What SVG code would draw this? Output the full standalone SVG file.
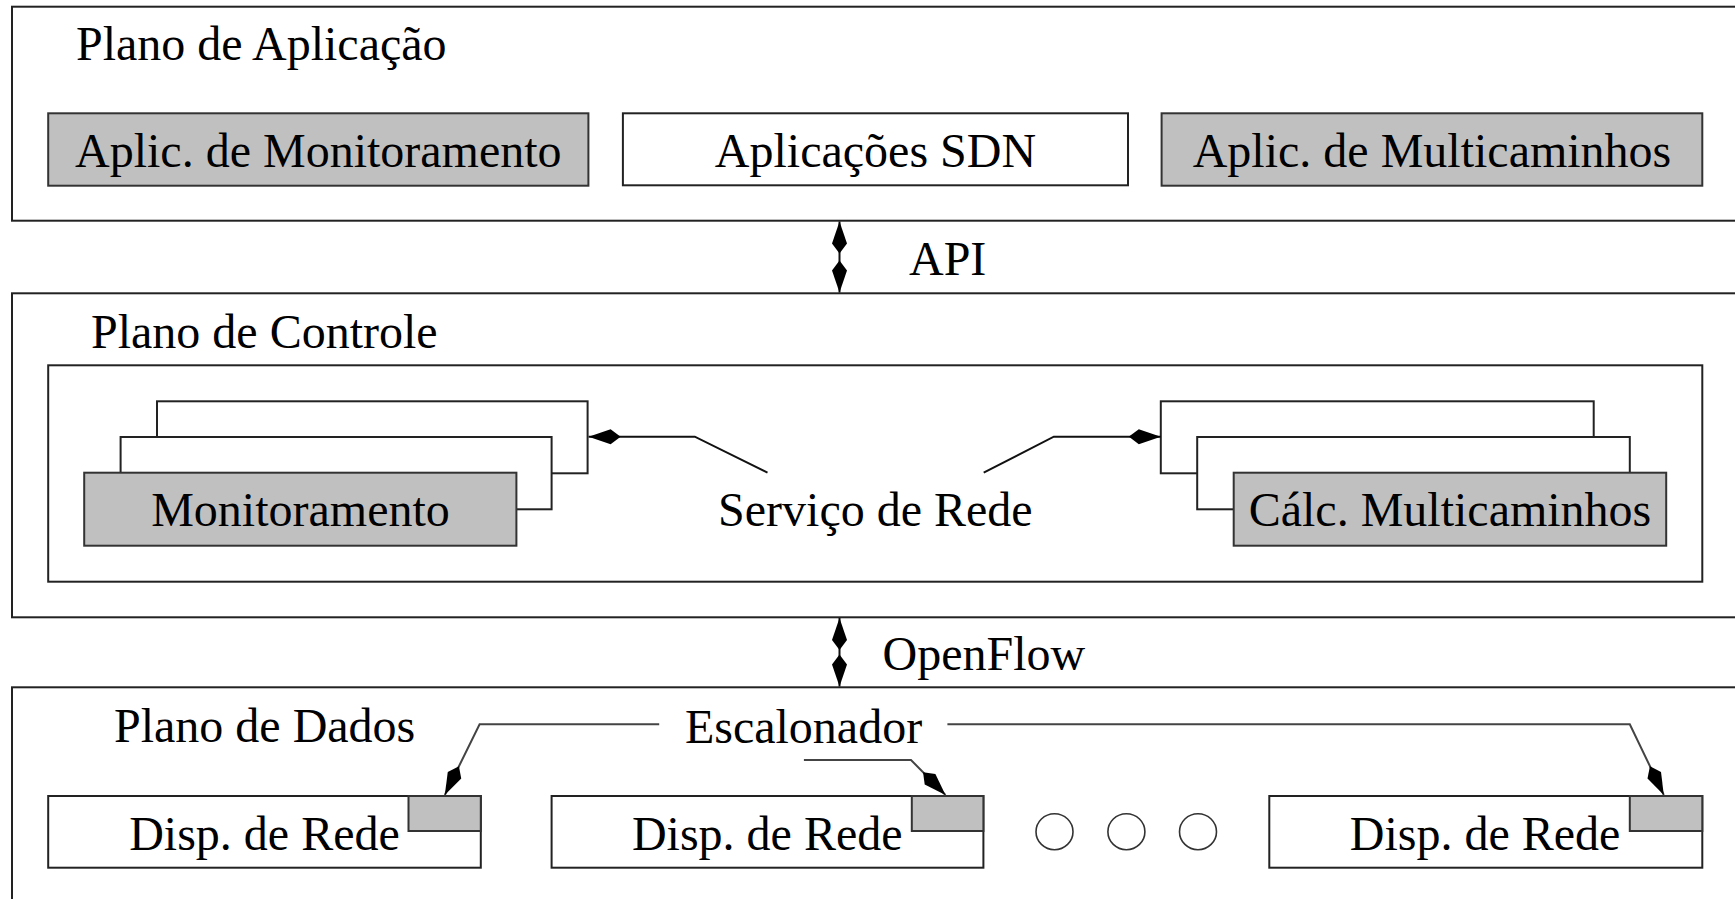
<svg xmlns="http://www.w3.org/2000/svg" width="1735" height="899" viewBox="0 0 1735 899">
  <style>
    .plane { fill: #ffffff; stroke: #222222; stroke-width: 2; }
    .box { fill: #ffffff; stroke: #222222; stroke-width: 2; }
    .gray { fill: #c0c0c0; stroke: #333333; stroke-width: 2; }
    .lbl { font-family: "Liberation Serif", "Times New Roman", serif; font-size: 48px; fill: #000000; }
    .mid { text-anchor: middle; }
    .link { fill: none; stroke: #111111; stroke-width: 2; }
    .lead { fill: none; stroke: #444444; stroke-width: 2; }
    .dot { fill: #ffffff; stroke: #333333; stroke-width: 1.6; }
  </style>
  <defs>
    <marker id="kite" markerUnits="userSpaceOnUse" markerWidth="34" markerHeight="20" viewBox="0 -10 34 20" refX="32" refY="0" orient="auto-start-reverse">
      <path d="M0,0 L10,-7.5 L32,0 L10,7.5 Z" fill="#000000"/>
    </marker>
  </defs>
  <rect width="1735" height="899" fill="#ffffff"/>

  <!-- application plane -->
  <g id="plano-aplicacao">
    <rect class="plane" x="12" y="6.7" width="1800" height="214"/>
    <text class="lbl" x="76" y="60">Plano de Aplicação</text>
  </g>
  <g id="aplic-monitoramento">
    <rect class="gray" x="48.2" y="113.3" width="540.2" height="72.4"/>
    <text class="lbl mid" x="318.3" y="166.5">Aplic. de Monitoramento</text>
  </g>
  <g id="aplicacoes-sdn">
    <rect class="box" x="622.9" y="113.3" width="505.1" height="72"/>
    <text class="lbl mid" x="875.5" y="166.5">Aplicações SDN</text>
  </g>
  <g id="aplic-multicaminhos">
    <rect class="gray" x="1161.6" y="113.3" width="540.7" height="72.4"/>
    <text class="lbl mid" x="1432" y="166.5">Aplic. de Multicaminhos</text>
  </g>

  <!-- control plane -->
  <g id="plano-controle">
    <rect class="plane" x="12" y="293.3" width="1800" height="324"/>
    <text class="lbl" x="91" y="348.3">Plano de Controle</text>
    <rect class="box" x="48.2" y="365.3" width="1654.1" height="216.4"/>
    <text class="lbl mid" x="875.4" y="526">Serviço de Rede</text>
  </g>
  <g id="monitoramento">
    <rect class="box" x="157" y="401.3" width="430.6" height="72"/>
    <rect class="box" x="120.6" y="437" width="431" height="72.3"/>
    <rect class="gray" x="84.2" y="472.7" width="432.2" height="73"/>
    <text class="lbl mid" x="300.5" y="526">Monitoramento</text>
  </g>
  <g id="calc-multicaminhos">
    <rect class="box" x="1160.8" y="401.3" width="432.9" height="72"/>
    <rect class="box" x="1197.2" y="437" width="432.6" height="72.3"/>
    <rect class="gray" x="1233.7" y="472.7" width="432.5" height="73"/>
    <text class="lbl mid" x="1450" y="526">Cálc. Multicaminhos</text>
  </g>

  <!-- data plane -->
  <g id="plano-dados">
    <rect class="plane" x="12" y="687.3" width="1800" height="300"/>
    <text class="lbl" x="114" y="741.7">Plano de Dados</text>
    <text class="lbl mid" x="803.5" y="742.7">Escalonador</text>
  </g>
  <g id="disp-1">
    <rect class="box" x="48.2" y="796" width="432.6" height="71.7"/>
    <rect class="gray" x="408.5" y="796" width="72.3" height="35"/>
    <text class="lbl mid" x="264.5" y="850">Disp. de Rede</text>
  </g>
  <g id="disp-2">
    <rect class="box" x="551.6" y="796" width="431.8" height="71.7"/>
    <rect class="gray" x="911.8" y="796" width="71.6" height="35"/>
    <text class="lbl mid" x="767.2" y="850">Disp. de Rede</text>
  </g>
  <g id="reticencias">
    <ellipse class="dot" cx="1054.5" cy="831.7" rx="18.5" ry="18"/>
    <ellipse class="dot" cx="1126.4" cy="831.7" rx="18.5" ry="18"/>
    <ellipse class="dot" cx="1198" cy="831.7" rx="18.5" ry="18"/>
  </g>
  <g id="disp-3">
    <rect class="box" x="1269.3" y="796" width="433" height="71.7"/>
    <rect class="gray" x="1629.8" y="796" width="72.5" height="35"/>
    <text class="lbl mid" x="1485.1" y="850">Disp. de Rede</text>
  </g>

  <!-- connectors -->
  <g id="connectors">
    <line class="link" x1="839.5" y1="221.5" x2="839.5" y2="292.5" marker-start="url(#kite)" marker-end="url(#kite)"/>
    <text class="lbl" x="909" y="275">API</text>
    <line class="link" x1="839.5" y1="618" x2="839.5" y2="686.5" marker-start="url(#kite)" marker-end="url(#kite)"/>
    <text class="lbl" x="882.5" y="670">OpenFlow</text>
    <polyline class="link" points="767.5,472.7 694.8,436.7 588.6,436.7" marker-end="url(#kite)"/>
    <polyline class="link" points="983.7,472.7 1053.8,436.7 1160.8,436.7" marker-end="url(#kite)"/>
    <polyline class="lead" points="659.2,724.3 479.6,724.3 444.8,795" marker-end="url(#kite)"/>
    <polyline class="lead" points="803.9,760 911,760 945.5,795" marker-end="url(#kite)"/>
    <polyline class="lead" points="947.4,724.3 1629.8,724.3 1663.8,795" marker-end="url(#kite)"/>
  </g>
</svg>
